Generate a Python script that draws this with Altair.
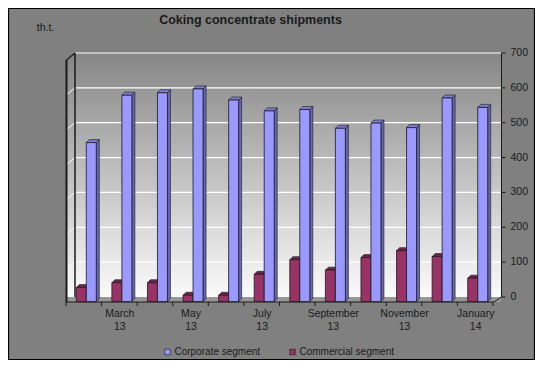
import altair as alt
import pandas as pd

# ---------------- data ----------------
months = ["February 13", "March 13", "April 13", "May 13", "June 13", "July 13",
          "August 13", "September 13", "October 13", "November 13", "December 13", "January 14"]
corporate = [443, 579, 586, 597, 565, 534, 538, 484, 499, 486, 571, 544]
commercial = [27, 41, 41, 5, 5, 65, 107, 77, 113, 133, 116, 54]
series = ["Corporate segment", "Commercial segment"]
y_ticks = [0, 100, 200, 300, 400, 500, 600, 700]
grid_values = [100, 200, 300, 400, 500, 600, 700]

# ---------------- styles ----------------
FONT = "Liberation Sans, Arial, sans-serif"
INK = "#1a1a1a"
front_colors = {"Corporate segment": "#9999ff", "Commercial segment": "#993366"}
side_colors = {"Corporate segment": "#6666b3", "Commercial segment": "#66223f"}
top_colors = {"Corporate segment": "#7f7fd6", "Commercial segment": "#6e2449"}

W, H = 427, 244
BW = 0.281   # bar width in month units
DX = 0.0843  # 3D depth, x (month units)
DY = 8.6     # 3D depth, y (value units)
BASE = -13.0

x_scale = alt.Scale(domain=[-0.5, 11.5], nice=False, zero=False)
y_scale = alt.Scale(domain=[0, 700], nice=False, zero=False)

front_rows, face_rows = [], []
for i, m in enumerate(months):
    for s, vals, shift in (("Commercial segment", commercial, -BW), ("Corporate segment", corporate, 0.0)):
        v = vals[i]
        x0 = i + shift
        x1 = x0 + BW
        bid = f"{s}-{i}"
        front_rows.append(dict(series=s, idx=i, value=v, x0=x0, x1=x1, base=BASE))
        sc, tc = side_colors[s], top_colors[s]
        face_rows += [
            dict(bar=bid + "s", x=x1, y=v, y2=BASE, fill=sc),
            dict(bar=bid + "s", x=x1 + DX, y=v + DY, y2=BASE + DY, fill=sc),
            dict(bar=bid + "t", x=x0, y=v, y2=v, fill=tc),
            dict(bar=bid + "t", x=x0 + DX, y=v + DY, y2=v, fill=tc),
            dict(bar=bid + "t", x=x1, y=v + DY, y2=v, fill=tc),
            dict(bar=bid + "t", x=x1 + DX, y=v + DY, y2=v + DY, fill=tc),
        ]
front_df = pd.DataFrame(front_rows)
face_df = pd.DataFrame(face_rows)
month_df = pd.DataFrame({"idx": list(range(len(months))), "month": months})
month_df["label"] = month_df["month"].str.replace(" ", "\n")
bound_df = pd.DataFrame({"b": [k - 0.5 - 0.07 for k in range(len(months) + 1)]})
grid_df = pd.DataFrame({"value": grid_values})
grid_df["value2"] = grid_df["value"] - 20
tick_df = pd.DataFrame({"value": y_ticks})
one = pd.DataFrame({"k": [0]})

grad = alt.Gradient(gradient="linear",
                    stops=[alt.GradientStop(color="#868686", offset=0),
                           alt.GradientStop(color="#fbfbfb", offset=1)],
                    x1=0, x2=0, y1=0, y2=1)


def box(x1, x2, y1, y2, **kw):
    return alt.Chart(one).mark_rect(**kw).encode(
        x=alt.value(x1), x2=alt.value(x2), y=alt.value(y1), y2=alt.value(y2))


def seg(x1, y1, x2, y2, color=INK, w=1.0):
    return alt.Chart(one).mark_rule(color=color, strokeWidth=w).encode(
        x=alt.value(x1), x2=alt.value(x2), y=alt.value(y1), y2=alt.value(y2))


side_wall = box(-2, 6.5, 3.5, 246.5, color=grad)
back_wall = box(6.5, 432.5, 0, 244, color=grad)
floor = box(-2, 432.5, 244, 249, color="#979797")

grid = alt.Chart(grid_df).mark_rule(color="white", strokeWidth=1.2).encode(
    y=alt.Y("value:Q", scale=y_scale, axis=None),
    x=alt.value(6.5), x2=alt.value(432.5))

side_grid = alt.Chart(grid_df).mark_rule(color="white", strokeWidth=1).encode(
    y=alt.Y("value:Q", scale=y_scale, axis=None), y2="value2:Q",
    x=alt.value(6.5), x2=alt.value(-2))

# right value axis: line, ticks and labels drawn through the y scale
axis_line = seg(433, 0, 433, 244, w=1)
axis_ticks = alt.Chart(tick_df).mark_rule(color=INK, strokeWidth=1).encode(
    y=alt.Y("value:Q", scale=y_scale, axis=None), x=alt.value(433), x2=alt.value(437))
axis_labels = alt.Chart(tick_df).mark_text(
    align="left", baseline="middle", font=FONT, fontSize=10.5, color=INK).encode(
    y=alt.Y("value:Q", scale=y_scale, axis=None), x=alt.value(442), text="value:Q")

edges = [
    seg(-2, 7, -2, 249.5, w=2),
    seg(6.5, 0, 6.5, 244, w=1.5),
    seg(-2, 7, 6.5, 0, w=1.5),
    seg(-2.5, 249, 424.5, 249, w=1),
    seg(433, 244, 424.5, 249.5, w=1),
]

faces = alt.Chart(face_df).mark_area(stroke=INK, strokeWidth=0.6).encode(
    x=alt.X("x:Q", scale=x_scale, axis=None),
    y=alt.Y("y:Q", scale=y_scale, axis=None),
    y2="y2:Q",
    detail="bar:N",
    fill=alt.Fill("fill:N", scale=None))

fronts = alt.Chart(front_df).mark_rect(stroke=INK, strokeWidth=0.8).encode(
    x=alt.X("x0:Q", scale=x_scale, axis=None),
    x2="x1:Q",
    y=alt.Y("value:Q", scale=y_scale, axis=None),
    y2="base:Q",
    color=alt.Color("series:N",
                    scale=alt.Scale(domain=series, range=[front_colors[s] for s in series]),
                    legend=alt.Legend(title=None, orient="none", legendX=94, legendY=294,
                                      direction="horizontal", symbolType="square",
                                      symbolSize=30, symbolStrokeColor=INK,
                                      symbolStrokeWidth=0.6, labelFont=FONT,
                                      labelFontSize=10, labelColor=INK, labelOffset=2,
                                      columnPadding=27, padding=0)))

xticks = alt.Chart(bound_df).mark_rule(color=INK, strokeWidth=1).encode(
    x=alt.X("b:Q", scale=x_scale, axis=None), y=alt.value(249), y2=alt.value(253))

xlabels = alt.Chart(month_df).transform_filter("datum.idx % 2 == 1").mark_text(
    lineBreak="\n", baseline="top", align="center", fontSize=10.5, font=FONT,
    color=INK, dx=-2, lineHeight=12.5).encode(
    x=alt.X("idx:Q", scale=x_scale, axis=None), y=alt.value(256), text="label:N")

title = alt.Chart(one).mark_text(text="Coking concentrate  shipments", font=FONT,
                                 fontSize=12.5, fontWeight="bold", color=INK,
                                 align="center", baseline="middle").encode(
    x=alt.value(182), y=alt.value(-33.5))
unit = alt.Chart(one).mark_text(text="th.t.", font=FONT, fontSize=10.5, color=INK,
                                align="center", baseline="middle").encode(
    x=alt.value(-23), y=alt.value(-25.5))

border = box(-60, 466, -44.5, 306.5, fill=None, stroke="black", strokeWidth=1.2)

chart = alt.layer(side_wall, back_wall, floor, grid, side_grid, *edges, axis_line,
                  axis_ticks, axis_labels, faces, fronts,
                  xticks, xlabels, title, unit, border).properties(
    width=W, height=H,
    autosize=alt.AutoSizeParams(type="none"),
    padding={"left": 60.5, "top": 45, "right": 39.5, "bottom": 63},
    background="#808080",
).configure_view(stroke=None)

chart.save("out.html", embed_options={"renderer": "svg", "actions": False})
